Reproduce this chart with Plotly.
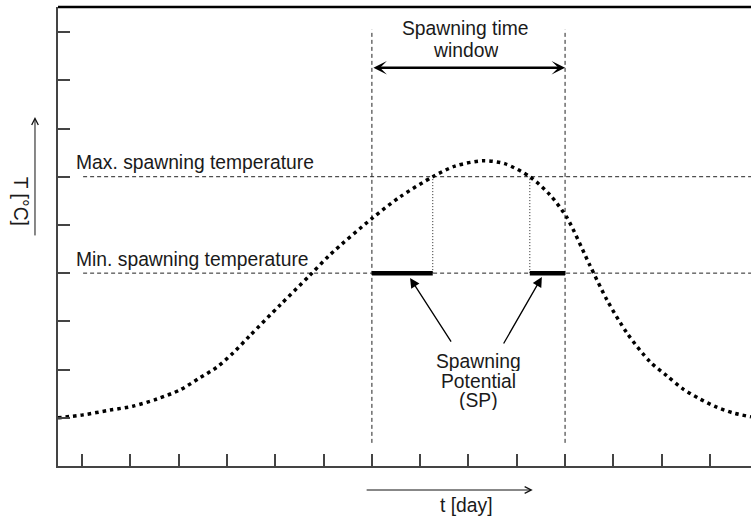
import plotly.graph_objects as go

# ---- data (arbitrary units) ----
t_day = [0, 0.52, 1.08, 1.55, 2.05, 2.53, 2.94, 3.29, 3.62, 3.97, 4.60, 5.22, 5.63, 6.52,
         7.08, 7.76, 8.22, 8.80, 9.25, 9.77, 10.19, 10.54, 11.01, 11.37, 11.78, 12.26,
         12.61, 12.94, 13.29, 13.64, 13.98, 14.35]
temp = [1.0, 1.06, 1.16, 1.24, 1.39, 1.58, 1.83, 2.05, 2.34, 2.70, 3.34, 3.96, 4.38, 5.15,
        5.58, 6.0, 6.22, 6.33, 6.27, 6.0, 5.62, 5.15, 4.17, 3.44, 2.76, 2.16,
        1.87, 1.60, 1.39, 1.22, 1.10, 1.02]

max_temp = 6.0
min_temp = 4.0
window_start = 6.5
window_end = 10.5
sp_left_end = 7.76     # curve crosses max temp (rising)
sp_right_start = 9.77  # curve crosses max temp (falling)

x_ticks = [0.5 + i for i in range(14)]
y_ticks = [1, 2, 3, 4, 5, 6, 7, 8, 9]
x_range = [0, 14.35]
y_range = [0, 9.52]

FONT = "Liberation Sans, Arial, sans-serif"
TXT = "#1a1a1a"

fig = go.Figure()

# threshold lines
for yv in [max_temp, min_temp]:
    fig.add_trace(go.Scatter(x=[0.52, x_range[1]], y=[yv, yv], mode="lines",
                             line=dict(color="#222", width=1, dash="4px,3px"),
                             hoverinfo="skip", showlegend=False))
# window lines
for xv in [window_start, window_end]:
    fig.add_trace(go.Scatter(x=[xv, xv], y=[0.48, 9.05], mode="lines",
                             line=dict(color="#222", width=1, dash="4px,3px"),
                             hoverinfo="skip", showlegend=False))
# thin dotted drop lines
for xv in [sp_left_end, sp_right_start]:
    fig.add_trace(go.Scatter(x=[xv, xv], y=[min_temp, max_temp], mode="lines",
                             line=dict(color="#222", width=1, dash="1px,2px"),
                             hoverinfo="skip", showlegend=False))
# spawning potential bars
for x0, x1 in [(window_start, sp_left_end), (sp_right_start, window_end)]:
    fig.add_trace(go.Scatter(x=[x0, x1], y=[min_temp, min_temp], mode="lines",
                             line=dict(color="black", width=4.5),
                             hoverinfo="skip", showlegend=False))
# temperature curve
fig.add_trace(go.Scatter(x=t_day, y=temp, mode="lines",
                         line=dict(color="black", width=3.5, dash="3.5px,4px",
                                   shape="spline", smoothing=0.8),
                         hoverinfo="skip", showlegend=False))

ann = []
def text(x, y, s, xanchor="center", xref="x", yref="y", angle=0, height=None):
    d = dict(x=x, y=y, xref=xref, yref=yref, text=s, showarrow=False,
             xanchor=xanchor, yanchor="middle", textangle=angle, borderpad=0,
             font=dict(family=FONT, size=19.3, color=TXT))
    if height is not None:
        d["height"] = height
    ann.append(d)

text(0.35, 6.29, "Max. spawning temperature", xanchor="left")
text(0.35, 4.29, "Min. spawning temperature", xanchor="left")
text(8.43, 9.07, "Spawning time", height=21)
text(8.43, 8.61, "window", height=21)
text(8.70, 2.18, "Spawning", height=20)
text(8.70, 1.76, "Potential", height=20)
text(8.70, 1.37, "(SP)", height=20)
text(8.45, -0.085, "t [day]", yref="paper")
text(-0.0548, 5.50, "T [°C]", xref="paper", angle=90)

# double arrow for time window
ann.append(dict(x=window_end, y=8.26, ax=window_start, ay=8.26, xref="x", yref="y",
                axref="x", ayref="y", text="", showarrow=True, arrowhead=3,
                arrowside="end+start", arrowwidth=2.5, arrowsize=0.9, arrowcolor="black",
                standoff=0, startstandoff=0))
# SP arrows
ann.append(dict(x=7.29, y=3.90, ax=8.16, ay=2.55, xref="x", yref="y", axref="x", ayref="y",
                text="", showarrow=True, arrowhead=2, arrowwidth=1.3, arrowsize=1.5,
                arrowcolor="black", standoff=0))
ann.append(dict(x=10.02, y=3.92, ax=9.21, ay=2.51, xref="x", yref="y", axref="x", ayref="y",
                text="", showarrow=True, arrowhead=2, arrowwidth=1.3, arrowsize=1.5,
                arrowcolor="black", standoff=0))
# axis direction arrows
ann.append(dict(x=9.83, y=-0.0523, ax=6.36, ay=0, xref="x", yref="paper", axref="x",
                ayref="pixel", text="", showarrow=True, arrowhead=5, arrowwidth=1,
                arrowsize=1.3, arrowcolor="#111", standoff=0))
ann.append(dict(x=-0.0332, y=7.24, ax=0, ay=120, xref="paper", yref="y", axref="pixel",
                ayref="pixel", text="", showarrow=True, arrowhead=5, arrowwidth=1,
                arrowsize=1.3, arrowcolor="#111", standoff=0))

axis_common = dict(showline=True, linecolor="#444", linewidth=1.5, ticks="inside",
                   ticklen=12, tickwidth=1.5, tickcolor="#444", showticklabels=False,
                   showgrid=False, zeroline=False)

fig.update_layout(
    width=751, height=517,
    margin=dict(l=58, r=0, t=7, b=51),
    paper_bgcolor="white", plot_bgcolor="white",
    xaxis=dict(range=x_range, tickvals=x_ticks, **axis_common),
    yaxis=dict(range=y_range, tickvals=y_ticks, **axis_common),
    annotations=ann,
    shapes=[dict(type="line", xref="paper", yref="paper", x0=0, x1=1, y0=1, y1=1,
                 line=dict(color="black", width=2.5))],
    showlegend=False,
)

fig.write_html("out.html", config={"displayModeBar": False},
               post_script="document.body.style.margin='0';")
